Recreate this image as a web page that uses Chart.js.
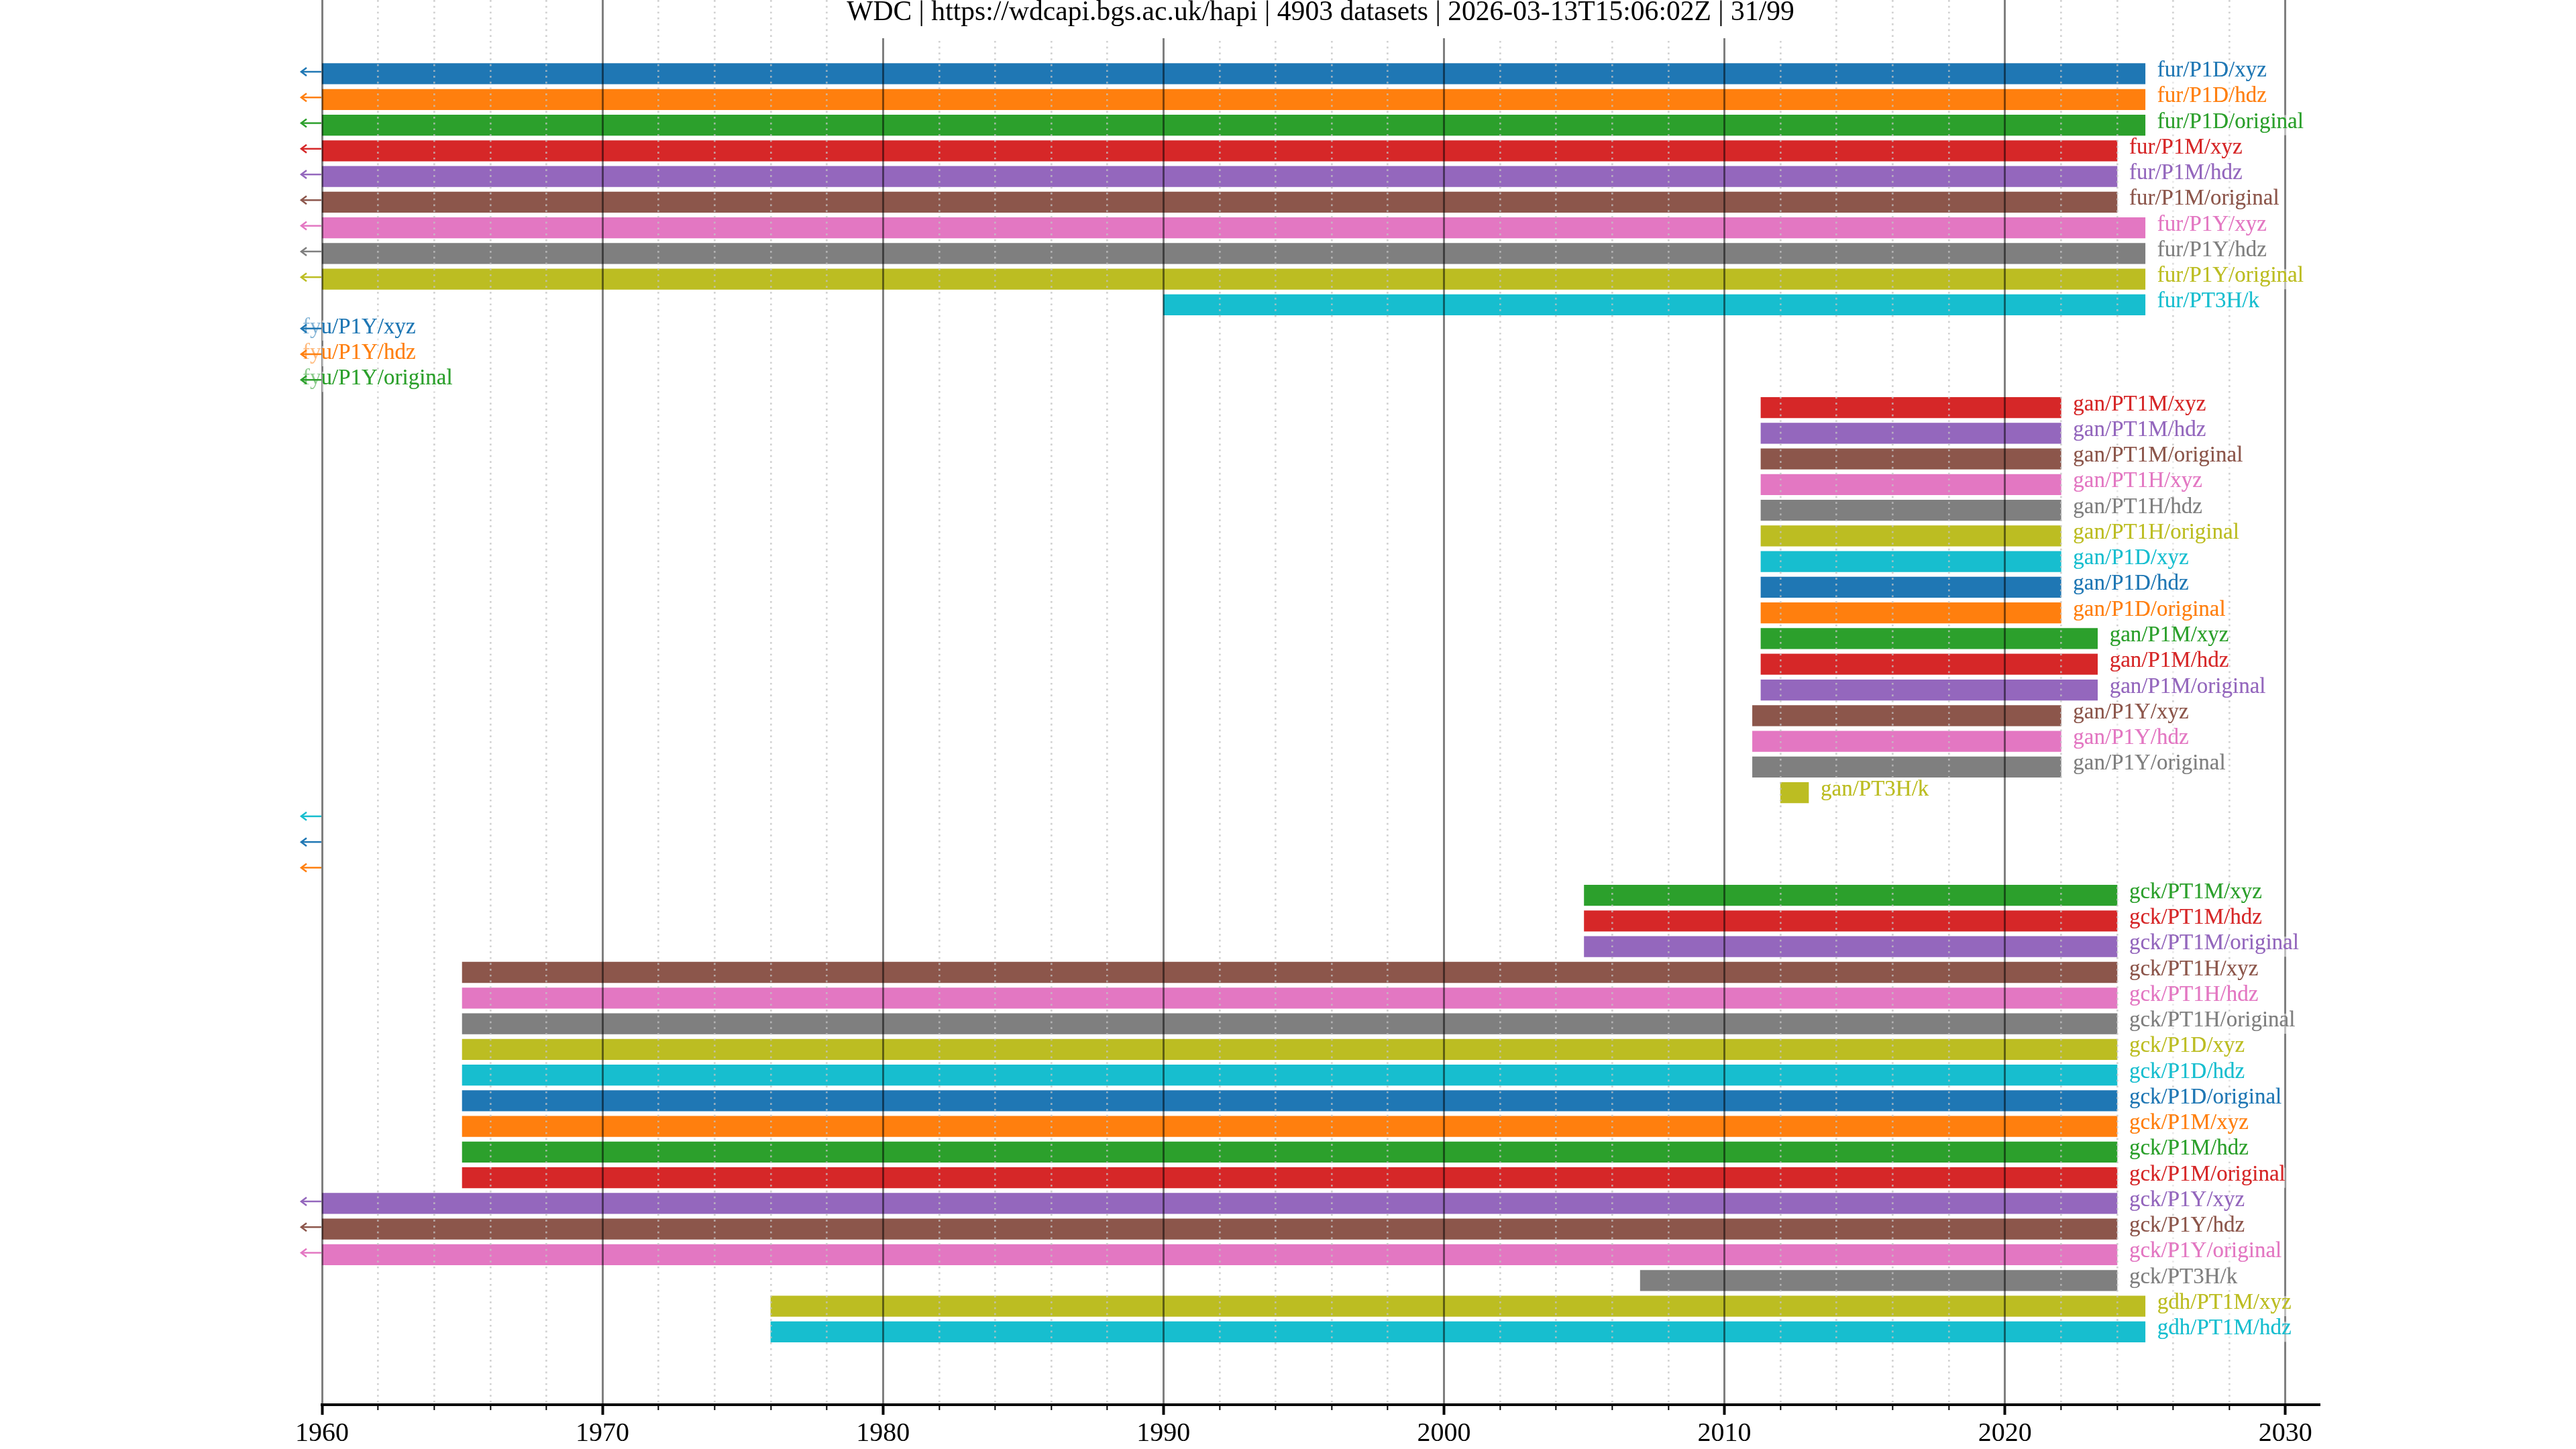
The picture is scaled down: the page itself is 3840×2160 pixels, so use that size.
<!DOCTYPE html>
<html>
<head>
<meta charset="utf-8">
<script src="https://cdn.jsdelivr.net/npm/chart.js@4/dist/chart.umd.min.js"></script>
<style>
html,body{margin:0;padding:0;background:#ffffff;overflow:hidden}
canvas{display:block}
</style>
</head>
<body>
<canvas id="c" width="3840" height="2160" style="width:3840px;height:2160px"></canvas>
<script>
// ---------------- data ----------------
const TITLE = 'WDC | https://wdcapi.bgs.ac.uk/hapi | 4903 datasets | 2026-03-13T15:06:02Z | 31/99';

const datasetNames = [
  'fur/P1D/xyz','fur/P1D/hdz','fur/P1D/original',
  'fur/P1M/xyz','fur/P1M/hdz','fur/P1M/original',
  'fur/P1Y/xyz','fur/P1Y/hdz','fur/P1Y/original',
  'fur/PT3H/k',
  'fyu/P1Y/xyz','fyu/P1Y/hdz','fyu/P1Y/original',
  'gan/PT1M/xyz','gan/PT1M/hdz','gan/PT1M/original',
  'gan/PT1H/xyz','gan/PT1H/hdz','gan/PT1H/original',
  'gan/P1D/xyz','gan/P1D/hdz','gan/P1D/original',
  'gan/P1M/xyz','gan/P1M/hdz','gan/P1M/original',
  'gan/P1Y/xyz','gan/P1Y/hdz','gan/P1Y/original',
  'gan/PT3H/k',
  '','','',
  'gck/PT1M/xyz','gck/PT1M/hdz','gck/PT1M/original',
  'gck/PT1H/xyz','gck/PT1H/hdz','gck/PT1H/original',
  'gck/P1D/xyz','gck/P1D/hdz','gck/P1D/original',
  'gck/P1M/xyz','gck/P1M/hdz','gck/P1M/original',
  'gck/P1Y/xyz','gck/P1Y/hdz','gck/P1Y/original',
  'gck/PT3H/k',
  'gdh/PT1M/xyz','gdh/PT1M/hdz'
];

const startYears = [
  1939,1939,1939, 1939,1939,1939, 1939,1939,1939, 1990.0,
  1950,1950,1950,
  2011.3,2011.3,2011.3, 2011.3,2011.3,2011.3, 2011.3,2011.3,2011.3,
  2011.3,2011.3,2011.3, 2011.0,2011.0,2011.0, 2012.0,
  1950,1950,1950,
  2005.0,2005.0,2005.0, 1965.0,1965.0,1965.0, 1965.0,1965.0,1965.0,
  1965.0,1965.0,1965.0, 1958,1958,1958, 2007.0,
  1976.0,1976.0
];

const endYears = [
  2025.0,2025.0,2025.0, 2024.0,2024.0,2024.0, 2025.0,2025.0,2025.0, 2025.0,
  1958,1958,1958,
  2022.0,2022.0,2022.0, 2022.0,2022.0,2022.0, 2022.0,2022.0,2022.0,
  2023.3,2023.3,2023.3, 2022.0,2022.0,2022.0, 2013.0,
  1958,1958,1958,
  2024.0,2024.0,2024.0, 2024.0,2024.0,2024.0, 2024.0,2024.0,2024.0,
  2024.0,2024.0,2024.0, 2024.0,2024.0,2024.0, 2024.0,
  2025.0,2025.0
];

const X_MIN = 1960;
const X_MAX = 2031.2;
const MAJOR_STEP = 10;
const MINOR_STEP = 2;
const ROW_MIN = -2.874;
const ROW_MAX = 51.84;

// ---------------- styles ----------------
const PALETTE = ['#1f77b4','#ff7f0e','#2ca02c','#d62728','#9467bd','#8c564b','#e377c2','#7f7f7f','#bcbd22','#17becf'];
const SERIF = '"Liberation Serif", "Times New Roman", serif';

const rowIndex = datasetNames.map((_, i) => i);

const overlayPlugin = {
  id: 'overlay',
  afterDraw(chart) {
    const ctx = chart.ctx;
    const a = chart.chartArea;
    const xs = chart.scales.x;
    const ys = chart.scales.y;
    ctx.save();
    ctx.font = '33px ' + SERIF;
    ctx.textBaseline = 'alphabetic';
    ctx.textAlign = 'left';
    rowIndex.forEach(i => {
      const name = datasetNames[i];
      const yc = ys.getPixelForValue(i);
      const color = PALETTE[i % PALETTE.length];
      if (name) {
        const lx = endYears[i] < X_MIN ? a.left - 29 : xs.getPixelForValue(endYears[i]) + 18;
        const w = ctx.measureText(name).width;
        ctx.save();
        ctx.beginPath();
        ctx.rect(a.left, a.top, a.right - a.left, a.bottom - a.top);
        ctx.clip();
        ctx.fillStyle = 'rgba(255,255,255,0.5)';
        ctx.fillRect(lx, yc - 15, w, 30);
        ctx.restore();
        ctx.fillStyle = color;
        ctx.globalAlpha = 0.55;
        ctx.fillText(name, lx, yc + 4);
        ctx.globalAlpha = 1;
        ctx.save();
        ctx.beginPath();
        ctx.rect(a.left, a.top, a.right - a.left, a.bottom - a.top);
        ctx.clip();
        ctx.fillText(name, lx, yc + 4);
        ctx.restore();
      }
      if (startYears[i] < X_MIN) {
        const ay = yc - 3;
        ctx.strokeStyle = color;
        ctx.lineWidth = 2.5;
        ctx.beginPath();
        ctx.moveTo(a.left - 31, ay);
        ctx.lineTo(a.left - 1, ay);
        ctx.stroke();
        ctx.beginPath();
        ctx.moveTo(a.left - 23, ay - 6);
        ctx.lineTo(a.left - 31, ay);
        ctx.lineTo(a.left - 23, ay + 6);
        ctx.stroke();
      }
    });
    // title with white box
    ctx.font = '41.6px ' + SERIF;
    const tw = ctx.measureText(TITLE).width;
    const cx = (a.left + a.right) / 2;
    ctx.fillStyle = '#ffffff';
    ctx.fillRect(cx - tw / 2 - 20, 0, tw + 40, 57);
    ctx.fillStyle = '#000000';
    ctx.textAlign = 'center';
    ctx.fillText(TITLE, cx, 30);
    ctx.restore();
  }
};

const isMajor = v => Math.abs(v % MAJOR_STEP) < 1e-6;

new Chart(document.getElementById('c').getContext('2d'), {
  type: 'bar',
  data: {
    datasets: [{
      data: rowIndex.map(i => ({ x: [startYears[i], endYears[i]], y: i })),
      backgroundColor: rowIndex.map(i => PALETTE[i % PALETTE.length]),
      borderWidth: 0,
      barThickness: 30.6,
      clip: 0,
      xAxisID: 'x',
      yAxisID: 'y'
    }]
  },
  options: {
    indexAxis: 'y',
    responsive: false,
    animation: false,
    devicePixelRatio: 1,
    layout: { padding: { left: 480, right: 383, top: 0, bottom: 0 } },
    plugins: { legend: { display: false }, tooltip: { enabled: false }, title: { display: false } },
    scales: {
      y: {
        type: 'linear', position: 'left', reverse: true, min: ROW_MIN, max: ROW_MAX,
        offset: false, grace: 0,
        ticks: { display: false },
        grid: { display: false, drawTicks: false },
        border: { display: false },
        afterFit: s => { s.width = 0; }
      },
      xMinor: {
        type: 'linear', axis: 'x', position: 'bottom', min: X_MIN, max: X_MAX, weight: 0,
        ticks: { stepSize: MINOR_STEP, display: false, includeBounds: false, autoSkip: false },
        grid: {
          z: 1,
          color: c => (c.tick && isMajor(c.tick.value)) ? 'rgba(0,0,0,0)' : 'rgba(195,195,195,0.75)',
          lineWidth: 2.7,
          tickLength: 8,
          tickWidth: 2,
          tickColor: c => (c.tick && isMajor(c.tick.value)) ? 'rgba(0,0,0,0)' : '#000000'
        },
        border: { display: false, dash: [2.7, 6] },
        afterFit: s => { s.height = 0; }
      },
      x: {
        type: 'linear', position: 'bottom', min: X_MIN, max: X_MAX, weight: 1,
        ticks: {
          stepSize: MAJOR_STEP, includeBounds: false, autoSkip: false, maxRotation: 0,
          font: { family: SERIF, size: 40 }, color: '#000000', padding: 4,
          callback: v => String(v)
        },
        grid: { z: 1, color: 'rgba(0,0,0,0.5)', lineWidth: 3, tickLength: 15, tickWidth: 4, tickColor: '#000000' },
        border: { display: true, color: '#000000', width: 4, z: 2 },
        afterFit: s => { s.height = 66; }
      }
    }
  },
  plugins: [overlayPlugin]
});
</script>
</body>
</html>
